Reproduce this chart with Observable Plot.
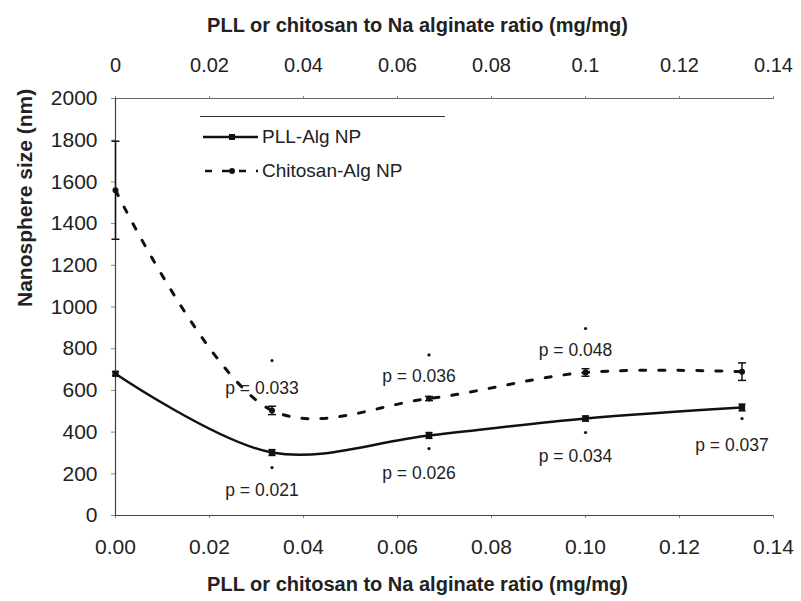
<!DOCTYPE html>
<html><head><meta charset="utf-8">
<script src="https://cdn.jsdelivr.net/npm/d3@7"></script>
<script src="https://cdn.jsdelivr.net/npm/@observablehq/plot@0.6"></script>
<style>
body{margin:0;background:#fff;font-family:"Liberation Sans",Arial,sans-serif;}
#wrap{position:relative;width:801px;height:601px;}
#legend{position:absolute;left:200px;top:116px;width:245px;border-top:1.5px solid #333;font-size:19px;color:#222;}
#legend .row{display:flex;align-items:center;height:34px;}
#legend svg{display:block;}
</style></head>
<body><div id="wrap"><div id="chart"></div>
<div id="legend">
 <div class="row" style="margin-top:3px"><svg width="62" height="20"><line x1="3" x2="58" y1="10" y2="10" stroke="#111" stroke-width="2.5"/><rect x="29" y="7" width="6" height="6" fill="#111"/></svg><span>PLL-Alg NP</span></div>
 <div class="row"><svg width="62" height="20"><line x1="5" x2="58" y1="10" y2="10" stroke="#111" stroke-width="2.5" stroke-dasharray="7,10"/><circle cx="32" cy="10" r="3" fill="#111"/></svg><span>Chitosan-Alg NP</span></div>
</div></div>
<script>
const ratio = [0, 0.0333, 0.0667, 0.1, 0.1333];
const pllSize = [680, 302, 384, 465, 518];
const pllErr = [10, 14, 14, 12, 16];
const chiSize = [1560, 504, 561, 686, 690];
const chiErr = [235, 20, 10, 18, 42];
const chiP = [null, "p = 0.033", "p = 0.036", "p = 0.048", null];
const pllP = [null, "p = 0.021", "p = 0.026", "p = 0.034", "p = 0.037"];
const chiMark = [null, 743, 770, 897, null];
const pllMark = [null, 230, 321, 398, 465];
const xTicks = [0, 0.02, 0.04, 0.06, 0.08, 0.1, 0.12, 0.14];
const yTicks = [0, 200, 400, 600, 800, 1000, 1200, 1400, 1600, 1800, 2000];
const xTitle = "PLL or chitosan to Na alginate ratio (mg/mg)";
const yTitle = "Nanosphere size (nm)";

const pll = ratio.map((x, i) => ({x, y: pllSize[i], e: pllErr[i], p: pllP[i], m: pllMark[i]}));
const chi = ratio.map((x, i) => ({x, y: chiSize[i], e: chiErr[i], p: chiP[i], m: chiMark[i]}));
const cap = {draw(ctx, size) { const r = Math.sqrt(size) / 2; ctx.moveTo(-r, 0); ctx.lineTo(r, 0); }};
const ink = "#111";

const plot = Plot.plot({
  width: 801, height: 601,
  marginTop: 98, marginLeft: 115, marginRight: 28, marginBottom: 86,
  style: {fontFamily: "Liberation Sans, Arial, sans-serif", fontSize: "21px", color: "#222", background: "#fff"},
  x: {domain: [0, 0.14]},
  y: {domain: [0, 2000]},
  marks: [
    Plot.axisX({anchor: "bottom", ticks: xTicks, tickFormat: d3.format(".2f"), tickSize: 3, tickPadding: 21, label: null, stroke: "#888", fontSize: 21}),
    Plot.axisX({anchor: "top", ticks: xTicks, tickFormat: d => d3.format("~g")(d), tickSize: 3, tickPadding: 24, label: null, stroke: "#888", fontSize: 20}),
    Plot.axisY({ticks: yTicks, tickFormat: d3.format("d"), tickSize: 4, tickPadding: 14, label: null, stroke: "#888", fontSize: 21}),
    Plot.ruleY([0], {stroke: "#444", strokeWidth: 1}),
    Plot.ruleY([2000], {stroke: "#666", strokeWidth: 1}),
    Plot.ruleX([0], {stroke: "#444", strokeWidth: 1.2}),
    Plot.text([xTitle], {frameAnchor: "bottom", dx: -27, dy: 75, fontWeight: "bold", fontSize: 20}),
    Plot.text([xTitle], {frameAnchor: "top", dx: -27, dy: -81, fontWeight: "bold", fontSize: 20}),
    Plot.text([yTitle], {frameAnchor: "left", dx: -90, rotate: -90, fontWeight: "bold", fontSize: 21}),
    // error bars
    Plot.ruleX(chi, {x: "x", y1: d => d.y - d.e, y2: d => d.y + d.e, stroke: ink, strokeWidth: 1.5}),
    Plot.dot(chi, {x: "x", y: d => d.y - d.e, symbol: cap, r: 4.5, stroke: ink, strokeWidth: 1.5}),
    Plot.dot(chi, {x: "x", y: d => d.y + d.e, symbol: cap, r: 4.5, stroke: ink, strokeWidth: 1.5}),
    Plot.ruleX(pll, {x: "x", y1: d => d.y - d.e, y2: d => d.y + d.e, stroke: ink, strokeWidth: 1.5}),
    Plot.dot(pll, {x: "x", y: d => d.y - d.e, symbol: cap, r: 4, stroke: ink, strokeWidth: 1.5}),
    Plot.dot(pll, {x: "x", y: d => d.y + d.e, symbol: cap, r: 4, stroke: ink, strokeWidth: 1.5}),
    // lines
    Plot.line(chi, {x: "x", y: "y", curve: "catmull-rom", stroke: ink, strokeWidth: 3, strokeDasharray: "6,13"}),
    Plot.line(pll, {x: "x", y: "y", curve: "catmull-rom", stroke: ink, strokeWidth: 2.5}),
    Plot.dot(chi, {x: "x", y: "y", r: 3, fill: ink}),
    Plot.dot(pll, {x: "x", y: "y", symbol: "square", r: 3.5, fill: ink}),
    // small marks
    Plot.dot(chi.filter(d => d.m != null), {x: "x", y: "m", r: 1.6, fill: ink}),
    Plot.dot(pll.filter(d => d.m != null), {x: "x", y: "m", r: 1.6, fill: ink}),
    // p labels
    Plot.text(chi.filter(d => d.p), {x: "x", y: "y", text: "p", dx: -10, dy: -22, fontSize: 17.5, fill: "#222"}),
    Plot.text(pll.filter(d => d.p), {x: "x", y: "y", text: "p", dx: -10, dy: 38, fontSize: 17.5, fill: "#222"})
  ]
});
document.getElementById("chart").appendChild(plot);
</script>
</body></html>
